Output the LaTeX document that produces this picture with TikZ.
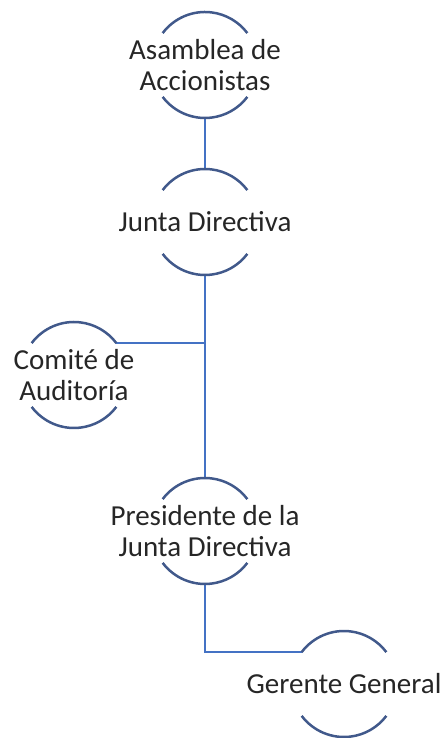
\documentclass[tikz,border=0pt]{standalone}
\usepackage{fontspec}
\setmainfont{Carlito}
\usetikzlibrary{positioning}
\definecolor{ringblue}{HTML}{41598B}
\definecolor{lineblue}{HTML}{4472C4}

\begin{document}
\begin{tikzpicture}[x=1pt, y=1pt,
ring/.style={circle, minimum size=106pt, inner sep=0pt, outer sep=0pt},
ringline/.style={draw=ringblue, line width=2.5pt},
title/.style={align=center, text=black!85, font=\fontsize{29}{31}\selectfont},
link/.style={draw=lineblue, line width=2.5pt}]
\useasboundingbox (0,0) rectangle (445,738);
% the five rings
\node[ring] (asamblea) at (205,673) {};
\node[ring, below=51pt of asamblea] (junta) {};
\node[ring] (comite) at (74,363) {};
\node[ring, below=203pt of junta] (presidente) {};
\node[ring] (gerente) at (344,54) {};
% connectors
\draw[link] (asamblea.south) -- (junta.north);
\draw[link] (junta.south) -- (presidente.north);
\draw[link] (comite.37) -- (comite.37 -| junta.south);
\draw[link] (presidente.south) |- (gerente.143);
% top and bottom arcs
\foreach \n in {asamblea,junta,comite,presidente,gerente} {
  \draw[ringline] (\n.143) arc[start angle=143, end angle=37, radius=53pt];
  \draw[ringline] (\n.217) arc[start angle=217, end angle=323, radius=53pt];
}
% texts
\node[title] (asamblea-txt) at (asamblea) {Asamblea de\\Accionistas};
\node[title] (junta-txt) at (junta) {Junta Directiva};
\node[title] (comite-txt) at (comite) {Comité de\\Auditoría};
\node[title] (presidente-txt) at (presidente) {Presidente de la\\Junta Directiva};
\node[title] (gerente-txt) at (gerente) {Gerente General};
\end{tikzpicture}
\end{document}
